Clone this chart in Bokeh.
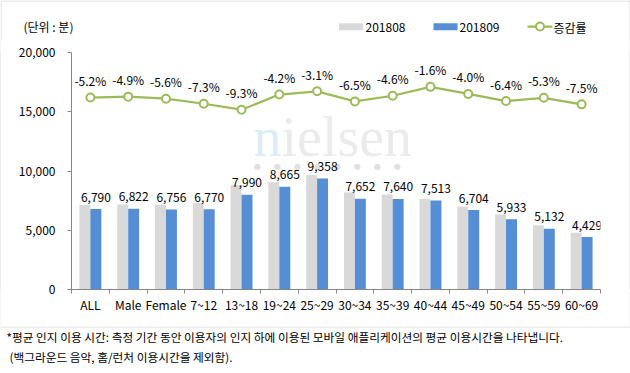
from bokeh.plotting import figure
from bokeh.models import (Range1d, FixedTicker, NumeralTickFormatter, Label, ColumnDataSource)
from bokeh.layouts import column, row
from bokeh.core.properties import value
from bokeh.embed import file_html
from bokeh.resources import INLINE

# ---- data ----
categories = ["ALL", "Male", "Female", "7~12", "13~18", "19~24", "25~29",
              "30~34", "35~39", "40~44", "45~49", "50~54", "55~59", "60~69"]
v201808 = [7162, 7174, 7157, 7303, 8809, 9045, 9657, 8184, 8008, 7635, 6983, 6339, 5419, 4788]
v201809 = [6790, 6822, 6756, 6770, 7990, 8665, 9358, 7652, 7640, 7513, 6704, 5933, 5132, 4429]
change_pct = [-5.2, -4.9, -5.6, -7.3, -9.3, -4.2, -3.1, -6.5, -4.6, -1.6, -4.0, -6.4, -5.3, -7.5]
y_ticks = [0, 5000, 10000, 15000, 20000]
series_names = ["201808", "201809", "증감률"]
unit_text = "(단위 : 분)"
note1 = "*평균 인지 이용 시간: 측정 기간 동안 이용자의 인지 하에 이용된 모바일 애플리케이션의 평균 이용시간을 나타냅니다."
note2 = "(백그라운드 음악, 홈/런처 이용시간을 제외함)."

FONT = "Noto Sans CJK KR"
GRAY = "#d9d9d9"
BLUE = "#558ed5"
GREEN = "#9bbb59"
AX = "#868686"
TXT = "#000000"
BORDER = "#d9d9d9"

W = 630
TOP_H = 40
MID_H = 286
BOT_H = 47


def blank(width, height, **kw):
    f = figure(width=width, height=height, output_backend="svg", toolbar_location=None,
               x_axis_type=None, y_axis_type=None, min_border=0,
               x_range=Range1d(0, width), y_range=Range1d(height, 0), **kw)
    f.outline_line_color = None
    return f


# ---------------- top strip: unit text + legend ----------------
T = blank(W, TOP_H)
T.segment(x0=[0, 0.5, W - 0.5], y0=[0.5, 0, 0], x1=[W, 0.5, W - 0.5], y1=[0.5, TOP_H, TOP_H],
          line_color=BORDER, line_width=1)
T.text(x=[23], y=[26], text=[unit_text], text_font=value(FONT), text_font_size="12px",
       text_color=TXT, text_baseline="middle")
T.quad(left=[338.5], right=[362.5], top=[22.7], bottom=[29.7], fill_color=GRAY, line_color=None)
T.quad(left=[433], right=[457], top=[22.7], bottom=[29.7], fill_color=BLUE, line_color=None)
T.line(x=[527, 552], y=[26, 26], line_color=GREEN, line_width=2.25)
T.scatter(x=[539.5], y=[26], marker="circle", size=8, fill_color="white",
          line_color=GREEN, line_width=2)
T.text(x=[365, 459, 553], y=[26.5, 26.5, 26.5], text=series_names, text_font=value(FONT),
       text_font_size="12px", text_color=TXT, text_baseline="middle")

# ---------------- main chart ----------------
pos = list(range(1, len(categories) + 1))
OFF = 0.145
src = ColumnDataSource(dict(
    pos=pos,
    pos_a=[x - OFF for x in pos],
    pos_b=[x + OFF for x in pos],
    a=v201808,
    b=v201809,
    pct=change_pct,
    blabel=[f"{v:,}" for v in v201809],
    plabel=[f"{r:.1f}%" for r in change_pct],
))

p = figure(width=W - 2, height=MID_H, output_backend="svg", toolbar_location=None,
           x_range=Range1d(0.5, len(categories) + 0.5), y_range=Range1d(0, 20000),
           min_border_left=70, min_border_right=29, min_border_top=12, min_border_bottom=37)
p.extra_y_ranges = {"pct": Range1d(-70, 10)}
p.outline_line_color = None
p.xgrid.visible = False
p.ygrid.visible = False


# page coords -> frame screen units (frame bottom-left origin, y up)
def sx(px):
    return px - 71


def sy(py):
    return 289 - py


# watermark
p.add_layout(Label(x=sx(253), y=sy(136), x_units="screen", y_units="screen", text="n",
                   text_font="Liberation Serif", text_font_size="56px", text_color="#dcedf8",
                   text_baseline="alphabetic", level="underlay"))
p.add_layout(Label(x=sx(281), y=sy(136), x_units="screen", y_units="screen", text="ielsen",
                   text_font="Liberation Serif", text_font_size="56px", text_color="#ebebeb",
                   text_baseline="alphabetic", level="underlay"))
for k in range(8):
    p.add_layout(Label(x=sx(257 + 20 * k), y=sy(166), x_units="screen", y_units="screen",
                       text="●", text_font="DejaVu Sans", text_font_size="8px",
                       text_color="#e0e0e0", text_align="center", text_baseline="middle",
                       level="underlay"))

ra = p.vbar(x="pos_a", top="a", width=0.29, source=src, fill_color=GRAY, line_color=None)
rb = p.vbar(x="pos_b", top="b", width=0.29, source=src, fill_color=BLUE, line_color=None)
line_r = p.line("pos", "pct", source=src, y_range_name="pct", line_color=GREEN, line_width=2.25)
dot_r = p.scatter("pos", "pct", source=src, y_range_name="pct", marker="circle", size=8,
                  fill_color="white", line_color=GREEN, line_width=2)

p.text(x="pos_b", y="b", text="blabel", source=src, text_align="center", text_baseline="middle",
       y_offset=-12, text_font=value(FONT), text_font_size="12px", text_color=TXT)
p.text(x="pos", y="pct", text="plabel", source=src, y_range_name="pct", text_align="center",
       text_baseline="middle", y_offset=-17, text_font=value(FONT), text_font_size="12px",
       text_color=TXT)

ya = p.yaxis[0]
ya.ticker = FixedTicker(ticks=y_ticks)
ya.formatter = NumeralTickFormatter(format="0,0")
ya.axis_line_color = AX
ya.major_tick_line_color = AX
ya.major_tick_in = 0
ya.major_tick_out = 4
ya.minor_tick_line_color = None
ya.major_label_standoff = 12
ya.major_label_text_font = FONT
ya.major_label_text_font_size = "12px"
ya.major_label_text_color = TXT

xa = p.xaxis[0]
xa.ticker = FixedTicker(ticks=pos, minor_ticks=[x - 0.5 for x in pos] + [pos[-1] + 0.5])
xa.major_label_overrides = {x: c for x, c in zip(pos, categories)}
xa.axis_line_color = AX
xa.major_tick_line_color = None
xa.major_tick_in = 0
xa.major_tick_out = 0
xa.minor_tick_line_color = AX
xa.minor_tick_in = 0
xa.minor_tick_out = 4
xa.major_label_standoff = 2
xa.major_label_text_font = FONT
xa.major_label_text_font_size = "12px"
xa.major_label_text_color = TXT


def side_strip():
    s = figure(width=1, height=MID_H, output_backend="svg", toolbar_location=None,
               x_axis_type=None, y_axis_type=None, min_border=0)
    s.outline_line_color = None
    s.background_fill_color = BORDER
    s.border_fill_color = BORDER
    return s


L = side_strip()
R = side_strip()

# ---------------- bottom strip: border + footnote ----------------
B = blank(W, BOT_H)
B.segment(x0=[0], y0=[0.5], x1=[W], y1=[0.5], line_color=BORDER, line_width=1)
B.text(x=[6, 9], y=[10, 29.5], text=[note1, note2], text_font=value(FONT),
       text_font_size="11.7px", text_color=TXT, text_baseline="middle")

layout = column(T, row(L, p, R), B)
open("out.html", "w").write(file_html(layout, INLINE))
